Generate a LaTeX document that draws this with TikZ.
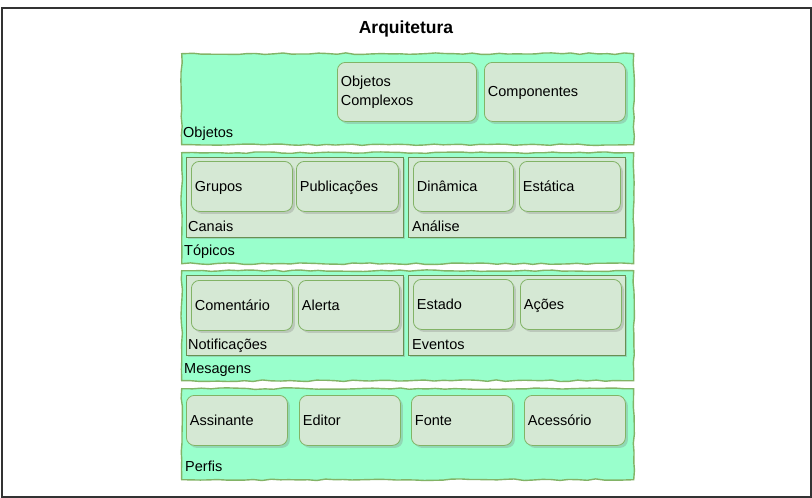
\documentclass[tikz,border=0pt]{standalone}
\usepackage{fontspec}
\setmainfont{Liberation Sans}
\usetikzlibrary{shadows,decorations.pathmorphing}
\definecolor{layerfill}{HTML}{99FFCC}
\definecolor{edgegreen}{HTML}{82B366}
\definecolor{boxfill}{HTML}{D5E8D4}

\begin{document}
\begin{tikzpicture}[x=1pt,y=-1pt,
  every node/.style={font=\fontsize{14.5}{17}\selectfont},
  layer/.style={draw=edgegreen,fill=layerfill,line width=1.4pt,anchor=north west,inner sep=0pt,
    decorate,decoration={random steps,segment length=9pt,amplitude=0.8pt}},
  group/.style={draw=edgegreen!80!black,fill=boxfill,line width=0.8pt,anchor=north west,inner sep=0pt,
    drop shadow={shadow xshift=2pt,shadow yshift=-2pt,opacity=0.3}},
  item/.style={draw=edgegreen,fill=boxfill,line width=0.8pt,rounded corners=8pt,anchor=north west,
    inner xsep=3.5pt,inner ysep=0pt,text width=94pt,text depth=0pt,minimum height=50pt,align=left,
    drop shadow={shadow xshift=2.5pt,shadow yshift=-2.5pt,opacity=0.3}},
  lbl/.style={anchor=base west,inner sep=0pt}]
\pgfmathsetseed{11}
\useasboundingbox (0,0) rectangle (812,498);
\draw[line width=2pt,black!80] (1.5,7.5) rectangle (810.5,496.5);

\node[font=\bfseries\fontsize{17.5}{20}\selectfont] (titulo) at (406,29) {Arquitetura};

% camadas
\node[layer,minimum width=452pt,minimum height=91pt] (objetos) at (181,53) {};
\node[layer,minimum width=452pt,minimum height=111pt] (topicos) at (181,152) {};
\node[layer,minimum width=452pt,minimum height=110pt] (mensagens) at (181,270) {};
\node[layer,minimum width=452pt,minimum height=91pt] (perfis) at (181,388) {};

% Objetos
\node[item,text width=132pt,text depth={},minimum height=59pt,font=\fontsize{14.5}{19}\selectfont]
  (complexos) at (337,62) {Objetos\\Complexos};
\node[item,text width=134pt,minimum height=59pt] (componentes) at (484,62) {Componentes};
\node[lbl] (objetoslbl) at (183,137) {Objetos};

% Topicos
\node[group,minimum width=217pt,minimum height=80pt] (canais) at (186,157) {};
\node[group,minimum width=217pt,minimum height=80pt] (analise) at (408,157) {};
\node[item] (grupos) at (191,161) {Grupos};
\node[item,text width=95pt] (publicacoes) at (296,161) {Publicações};
\node[item,text width=93pt] (dinamica) at (413,161) {Dinâmica};
\node[item] (estatica) at (519,161) {Estática};
\node[lbl] (canaislbl) at (188,231) {Canais};
\node[lbl] (analiselbl) at (412,231) {Análise};
\node[lbl] (topicoslbl) at (184,255) {Tópicos};

% Mesagens
\node[group,minimum width=217pt,minimum height=80pt] (notificacoes) at (186,275) {};
\node[group,minimum width=217pt,minimum height=80pt] (eventos) at (408,275) {};
\node[item] (comentario) at (191,280) {Comentário};
\node[item] (alerta) at (298,280) {Alerta};
\node[item,text width=93pt] (estado) at (413,279) {Estado};
\node[item] (acoes) at (520,279) {Ações};
\node[lbl] (notificacoeslbl) at (188,349) {Notificações};
\node[lbl] (eventoslbl) at (412,349) {Eventos};
\node[lbl] (mensagenslbl) at (184,373) {Mesagens};

% Perfis
\node[item] (assinante) at (186,395) {Assinante};
\node[item] (editor) at (299,395) {Editor};
\node[item] (fonte) at (411,395) {Fonte};
\node[item] (acessorio) at (524,395) {Acessório};
\node[lbl] (perfislbl) at (185,471) {Perfis};
\end{tikzpicture}
\end{document}
